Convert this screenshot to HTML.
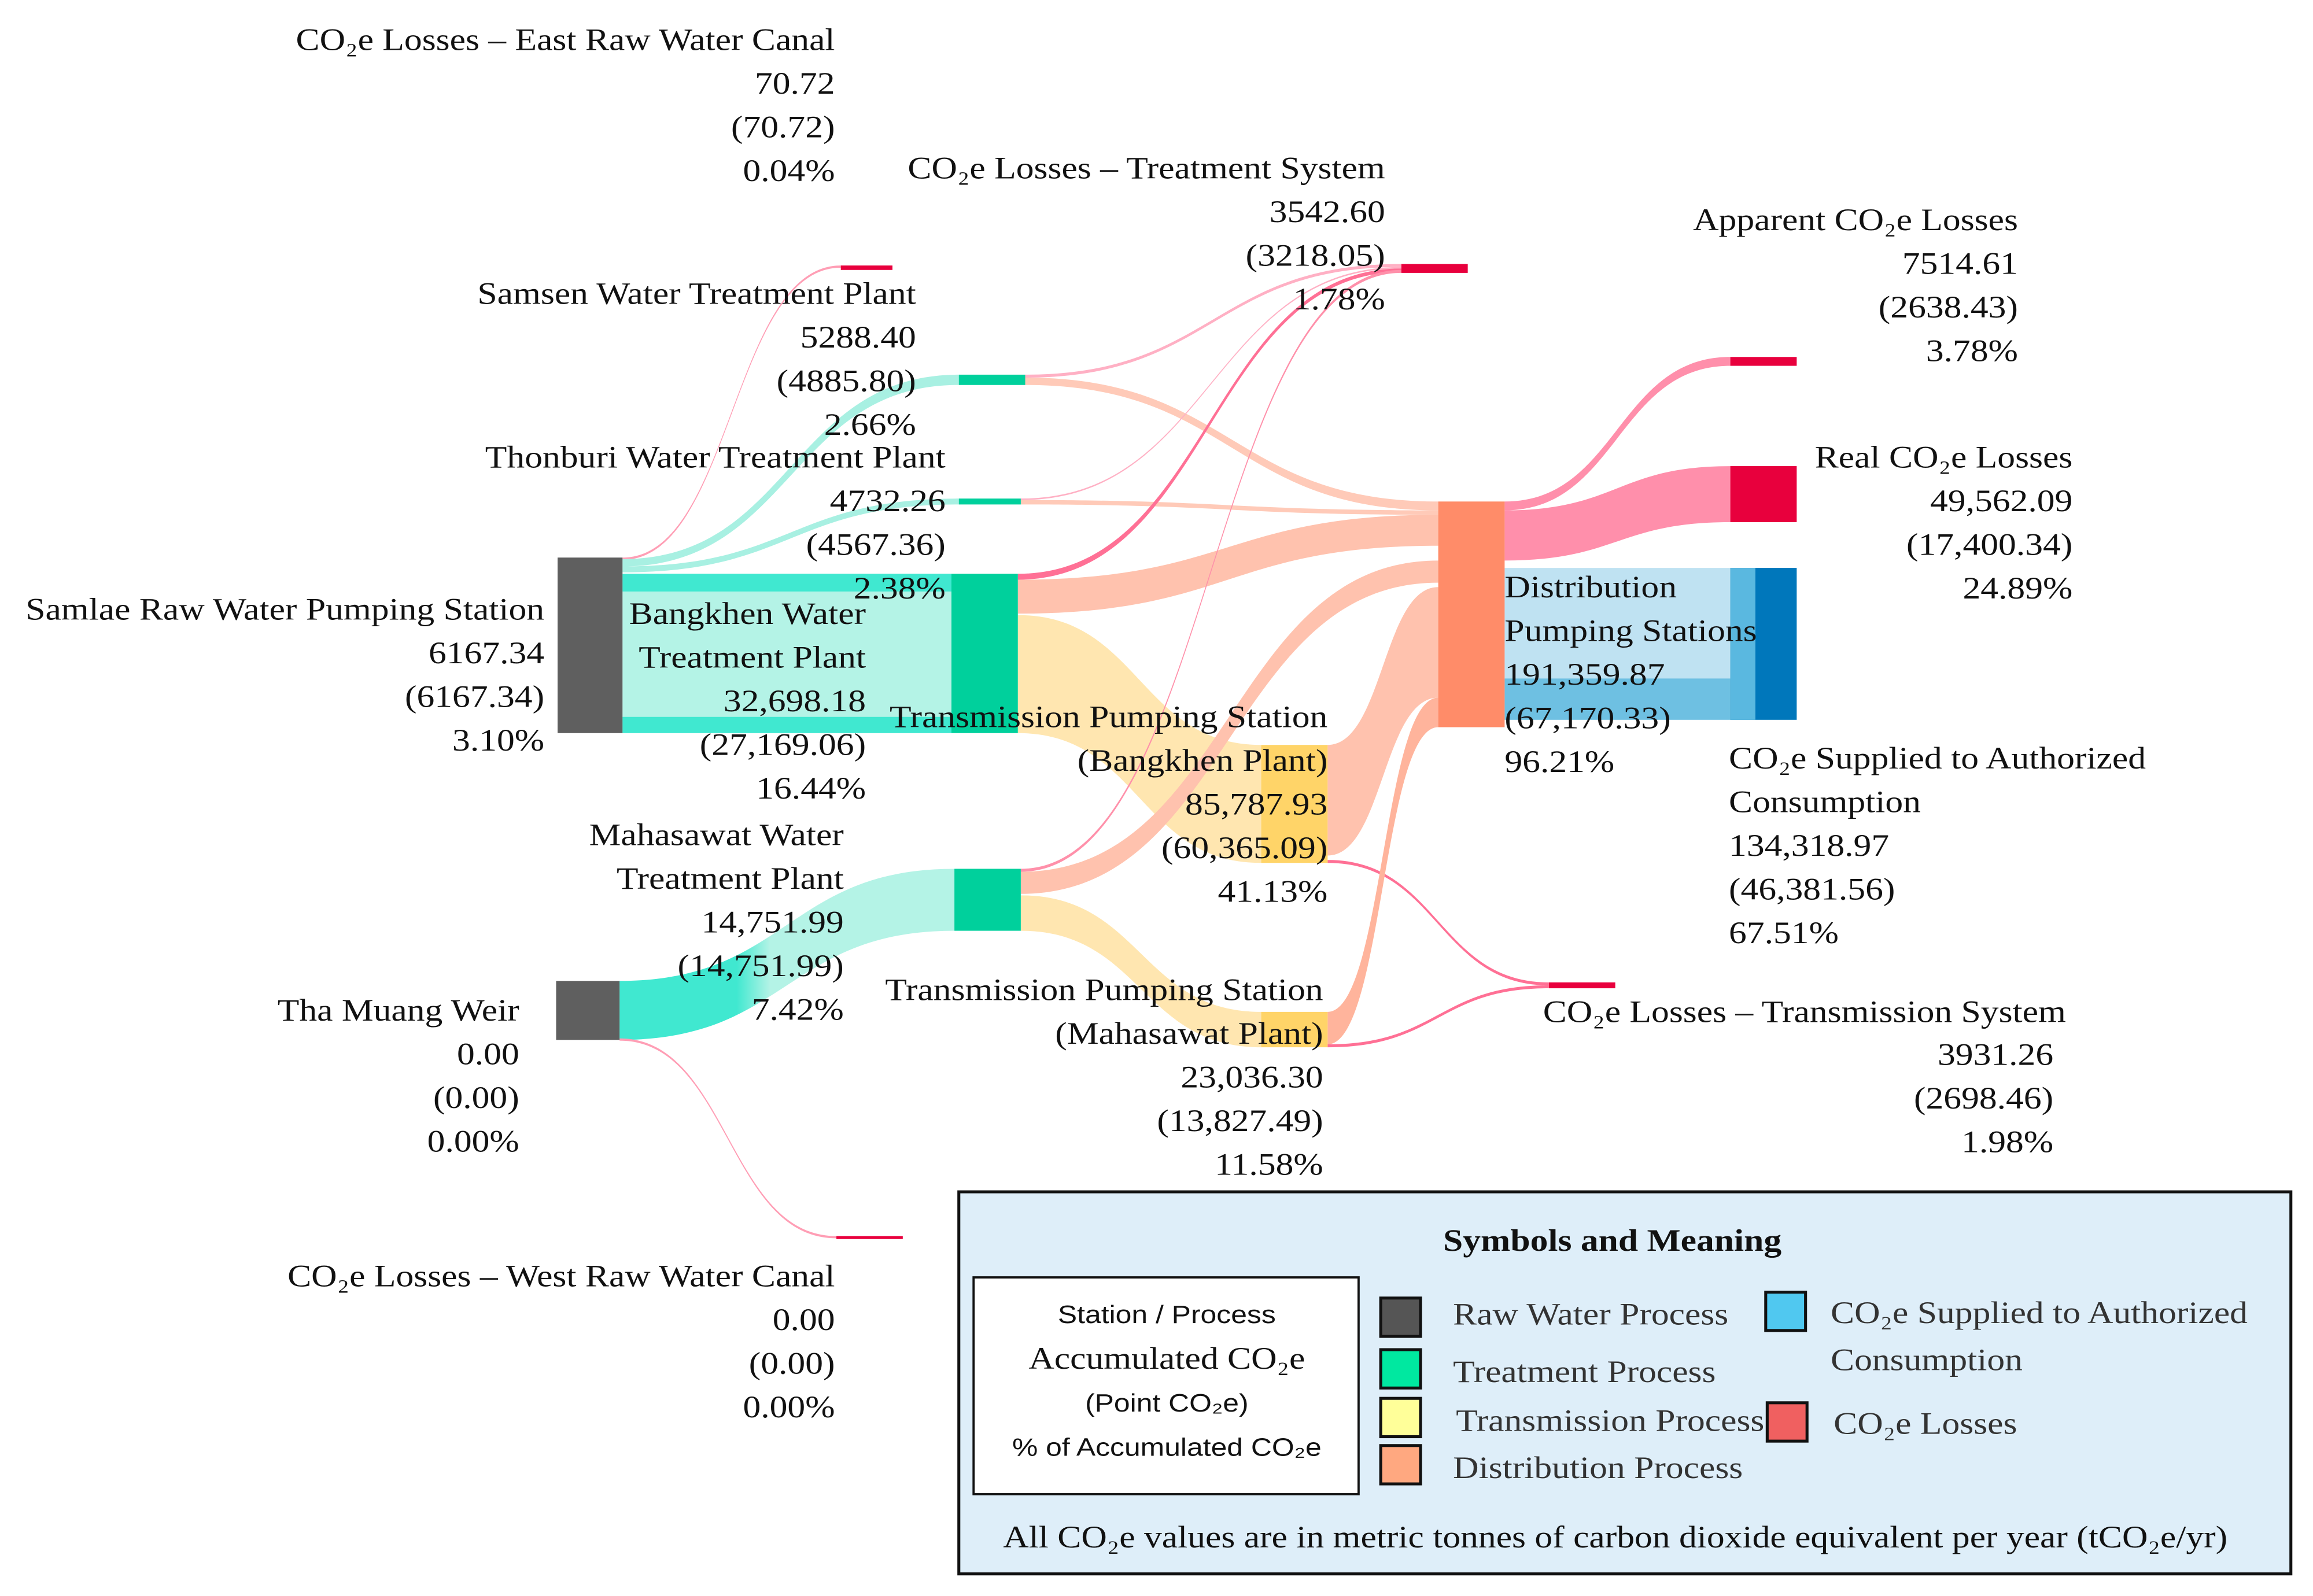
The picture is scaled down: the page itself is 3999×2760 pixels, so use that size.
<!DOCTYPE html>
<html><head><meta charset="utf-8"><style>
html,body{margin:0;padding:0;background:#fff;}
svg{display:block;}
text{font-family:"Liberation Serif",serif;font-size:21px;fill:#111;}
.sans{font-family:"Liberation Sans",sans-serif;font-size:17px;}
.leg{fill:#333;}
</style></head><body>
<svg id="chart" width="3999" height="2760" viewBox="0 0 1568 1082" preserveAspectRatio="none" xmlns="http://www.w3.org/2000/svg">
<defs><linearGradient id="gm" x1="0" x2="1" y1="0" y2="0"><stop offset="0.35" stop-color="#40e8d0"/><stop offset="0.45" stop-color="#b4f3e6"/></linearGradient></defs>
<g id="links"></g>
<g id="nodes"></g>
<g id="labels"></g>
<g id="legend">
<rect x="650" y="808" width="903" height="259" fill="#deeef9" stroke="#111" stroke-width="2"/>
<text x="1093" y="848" text-anchor="middle" font-weight="bold">Symbols and Meaning</text>
<rect x="660" y="866" width="261" height="147" fill="#fff" stroke="#111" stroke-width="1.5"/>
<text class="sans" x="791" y="897" text-anchor="middle">Station / Process</text>
<text x="791" y="928" text-anchor="middle">Accumulated CO₂e</text>
<text class="sans" x="791" y="957" text-anchor="middle">(Point CO₂e)</text>
<text class="sans" x="791" y="987" text-anchor="middle">% of Accumulated CO₂e</text>
<rect x="936" y="880" width="27" height="26" fill="#555" stroke="#111" stroke-width="2"/>
<rect x="936" y="915" width="27" height="26" fill="#00e8a0" stroke="#111" stroke-width="2"/>
<rect x="936" y="948" width="27" height="26" fill="#ffff99" stroke="#111" stroke-width="2"/>
<rect x="936" y="980" width="27" height="26" fill="#ffa880" stroke="#111" stroke-width="2"/>
<rect x="1197" y="876" width="27" height="26" fill="#50c8f0" stroke="#111" stroke-width="2"/>
<rect x="1198" y="951" width="27" height="26" fill="#f06060" stroke="#111" stroke-width="2"/>
<text class="leg" x="985" y="898">Raw Water Process</text>
<text class="leg" x="985" y="937">Treatment Process</text>
<text class="leg" x="987" y="970">Transmission Process</text>
<text class="leg" x="985" y="1002">Distribution Process</text>
<text class="leg" x="1241" y="897">CO₂e Supplied to Authorized</text>
<text class="leg" x="1241" y="929">Consumption</text>
<text class="leg" x="1243" y="972">CO₂e Losses</text>
<text x="1095" y="1049" text-anchor="middle">All CO₂e values are in metric tonnes of carbon dioxide equivalent per year (tCO₂e/yr)</text>
</g>
</svg>
<script>
const nodeNames=["samlae","tha-muang","samsen","thonburi","bangkhen","mahasawat","trans-bangkhen","trans-mahasawat","distribution","loss-east-canal","loss-west-canal","loss-treatment","loss-transmission","loss-apparent","loss-real","supplied"];
const accumulated=["6167.34","0.00","5288.40","4732.26","32,698.18","14,751.99","85,787.93","23,036.30","191,359.87","70.72","0.00","3542.60","3931.26","7514.61","49,562.09","134,318.97"];
const pointVals=["(6167.34)","(0.00)","(4885.80)","(4567.36)","(27,169.06)","(14,751.99)","(60,365.09)","(13,827.49)","(67,170.33)","(70.72)","(0.00)","(3218.05)","(2698.46)","(2638.43)","(17,400.34)","(46,381.56)"];
const percents=["3.10%","0.00%","2.66%","2.38%","16.44%","7.42%","41.13%","11.58%","96.21%","0.04%","0.00%","1.78%","1.98%","3.78%","24.89%","67.51%"];
const nodeBoxes=[[378,378,422,497,"#5f5f5f"],[377,665,420,705,"#5f5f5f"],[650,254,695,261,"#00d09c"],[650,338,692,342,"#00d09c"],[645,389,690,497,"#00d09c"],[647,589,692,631,"#00d09c"],[855,505,900,585,"#ffd468"],[855,686,900,710,"#ffd468"],[975,340,1020,493,"#ff8c69"],[570,180,605,183,"#e8003d"],[567,838,612,840,"#e8003d"],[950,179,995,185,"#e8003d"],[1050,666,1095,670,"#e8003d"],[1173,242,1218,248,"#e8003d"],[1173,316,1218,354,"#e8003d"],[1173,385,1218,488,"#0077bb"]];
const linkGeo=[
[422,378,379.5,570,180,181.5,"#ff9eb5"],
[422,379,384,650,254,261,"#a8f0e2"],
[422,384,388,650,338,342,"#a8f0e2"],
[422,389,497,645,389,497,"#b4f3e6"],
[422,389,401,645,389,401,"#40e8d0"],
[422,486,497,645,486,497,"#40e8d0"],
[420,665,705,647,589,631,"url(#gm)"],
[420,704,705.5,567,838,839.5,"#ff9eb5"],
[695,254,256,950,179,181,"#ffb0c4"],
[695,256,261,975,340,346,"#ffcab8"],
[692,338,339,950,181,182,"#ffb0c4"],
[692,339,342,975,346,349,"#ffcab8"],
[690,389,393,950,182,184.5,"#ff7095"],
[690,393,416,975,349,370,"#ffc2ae"],
[690,417,497,855,505,585,"#ffe6b0"],
[692,589,591,950,183,185,"#ff90aa"],
[692,591,606,975,380,395,"#ffc2ae"],
[692,607,631,855,686,710,"#ffe6b0"],
[900,505,580,975,398,473,"#ffc2ae"],
[900,583,585,1050,666,668,"#ff7095"],
[900,686,708,975,473,493,"#ffb49c"],
[900,708,710,1050,668,670,"#ff7095"],
[1020,340,346,1173,242,248,"#ff8fab"],
[1020,346,380,1173,316,354,"#ff8fab"],
[1020,385,488,1173,385,488,"#bfe2f2"],
[1020,460,488,1173,460,488,"#6ec0e2"]
];
const NS="http://www.w3.org/2000/svg";
function linkPath(l){const[x0,a0,b0,x1,a1,b1]=l;const m=(x0+x1)/2;
return `M${x0},${a0} C${m},${a0} ${m},${a1} ${x1},${a1} L${x1},${b1} C${m},${b1} ${m},${b0} ${x0},${b0} Z`;}
const lg=document.getElementById('links');
linkGeo.forEach((l,i)=>{const p=document.createElementNS(NS,'path');p.setAttribute('d',linkPath(l));p.setAttribute('fill',l[6]);


lg.appendChild(p);});
const ng=document.getElementById('nodes');
nodeBoxes.forEach((b,i)=>{const r=document.createElementNS(NS,'rect');r.setAttribute('x',b[0]);r.setAttribute('y',b[1]);r.setAttribute('width',b[2]-b[0]);r.setAttribute('height',b[3]-b[1]);r.setAttribute('fill',b[4]);


ng.appendChild(r);});
const sl=document.createElementNS(NS,'rect');sl.setAttribute('x',1173);sl.setAttribute('y',385);sl.setAttribute('width',17);sl.setAttribute('height',103);sl.setAttribute('fill','#5ab8e0');


ng.appendChild(sl);
const labelTitles=[["Samlae Raw Water Pumping Station"],["Tha Muang Weir"],["Samsen Water Treatment Plant"],["Thonburi Water Treatment Plant"],["Bangkhen Water","Treatment Plant"],["Mahasawat Water","Treatment Plant"],["Transmission Pumping Station","(Bangkhen Plant)"],["Transmission Pumping Station","(Mahasawat Plant)"],["Distribution","Pumping Stations"],["CO₂e Losses – East Raw Water Canal"],["CO₂e Losses – West Raw Water Canal"],["CO₂e Losses – Treatment System"],["CO₂e Losses – Transmission System"],["Apparent CO₂e Losses"],["Real CO₂e Losses"],["CO₂e Supplied to Authorized","Consumption"]];
const labelPos=[["end",369,420],["end",352,692],["end",621,206],["end",641,317],["end",587,423],["end",572,573],["end",900,493],["end",897,678],["start",1020,405],["end",566,34],["end",566,872],["end",939,121],["end",1392,722],["end",1368,156],["end",1405,317],["start",1172,521]];
const lab=document.getElementById('labels');
function addText(s,anchor,x,y,name){const t=document.createElementNS(NS,'text');t.setAttribute('x',x);t.setAttribute('y',y);t.setAttribute('text-anchor',anchor);t.textContent=s;


lab.appendChild(t);}
labelPos.forEach((p,i)=>{let y=p[2];const lines=labelTitles[i];
lines.forEach((s,j)=>{let ax=p[0],xx=p[1],yy=y;
 if(i===12){ax='start';xx=1046;yy=693;}
 addText(s,ax,xx,yy,'label-'+nodeNames[i]+'-title');y+=29.6;});
 if(i===12) y=722;
 addText(accumulated[i],p[0],p[1],y,'label-'+nodeNames[i]+'-accumulated');y+=29.6;
 addText(pointVals[i],p[0],p[1],y,'label-'+nodeNames[i]+'-point');y+=29.6;
 addText(percents[i],p[0],p[1],y,'label-'+nodeNames[i]+'-percent');});
// widen text horizontally to mimic the wider Palatino-style face
document.querySelectorAll('#chart text').forEach(t=>{const x=+t.getAttribute('x'),y=+t.getAttribute('y');
t.setAttribute('x',0);t.setAttribute('y',0);
t.setAttribute('transform',`translate(${x},${y}) scale(1.15,1)`);});
</script>
</body></html>
